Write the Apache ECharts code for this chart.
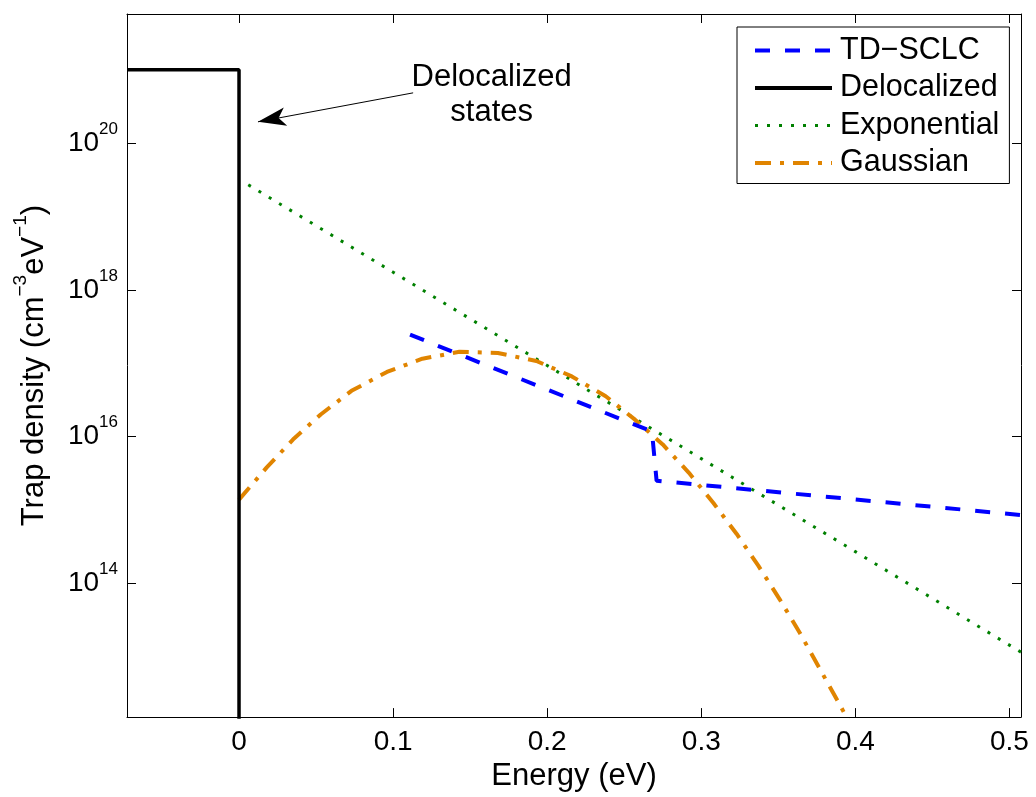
<!DOCTYPE html>
<html>
<head>
<meta charset="utf-8">
<script src="https://cdn.jsdelivr.net/npm/echarts@6/dist/echarts.min.js"></script>
<style>
  html, body { margin: 0; padding: 0; background: #fff; }
  #chart { width: 1036px; height: 797px; }
</style>
</head>
<body>
<div id="chart"></div>
<script>
// Trap density of states vs. energy (log scale)
const energyTdsclc = [0.111, 0.268, 0.271, 0.51];
const densityTdsclc = [2.45e17, 1.17e16, 2.5e15, 8.4e14];

const energyDeloc = [-0.0727, 0, 0];
const densityDeloc = [1e21, 1e21, 1e10];

const energyExp = [0.006, 0.1, 0.2, 0.3, 0.4, 0.51];
const densityExp = [2.7e19, 1.74e18, 9.3e16, 5.0e15, 2.7e14, 1.07e13];

const energyGauss = [0, 0.018, 0.035, 0.053, 0.073, 0.096, 0.119, 0.143, 0.168, 0.193, 0.216, 0.238,
  0.257, 0.275, 0.292, 0.308, 0.323, 0.337, 0.351, 0.364, 0.376, 0.388, 0.40];
const densityGauss = [1.38e15, 3.8e15, 9.1e15, 2.0e16, 4.2e16, 7.6e16, 1.15e17, 1.43e17, 1.38e17, 1.07e17,
  6.6e16, 3.55e16, 1.7e16, 7.8e15, 3.2e15, 1.23e15, 4.7e14, 1.74e14, 6.0e13, 2.1e13, 7.4e12, 2.6e12, 9.1e11];

const xTicks = [0, 0.1, 0.2, 0.3, 0.4, 0.5];
const yTicks = [1e14, 1e16, 1e18, 1e20];

// annotation: arrow from the note toward the delocalized edge
const arrowFrom = [0.113, 4.84e20];
const arrowTo = [0.0123, 1.95e20];
const noteAt = [0.164, 4.48e20];

const X_MIN = -0.0727, X_MAX = 0.5075;
const Y_MIN = 1.5e12, Y_MAX = 5.75e21;

const FONT = '"Liberation Sans", Arial, Helvetica, sans-serif';
const zip = (xs, ys) => xs.map((x, i) => [x, ys[i]]);

const chart = echarts.init(document.getElementById('chart'), null, { renderer: 'canvas' });

const axisLineStyle = { lineStyle: { color: '#000', width: 1 } };

chart.setOption({
  animation: false,
  backgroundColor: '#fff',
  textStyle: { fontFamily: FONT },
  grid: { left: 127, right: 15, top: 14, bottom: 79, containLabel: false },
  legend: {
    orient: 'vertical',
    left: 737,
    top: 27,
    padding: [8, 10, 5, 16],
    itemWidth: 77,
    itemHeight: 30,
    itemGap: 6.5,
    borderColor: '#000',
    borderWidth: 1,
    backgroundColor: '#fff',
    itemStyle: { opacity: 0, borderWidth: 0 },
    textStyle: { fontSize: 30.5, color: '#000', fontFamily: FONT, padding: [0, 0, 0, 3] },
    data: [
      { name: 'TD\u2212SCLC', lineStyle: { width: 4 } },
      { name: 'Delocalized', lineStyle: { width: 4 } },
      { name: 'Exponential', lineStyle: { width: 3 } },
      { name: 'Gaussian', lineStyle: { width: 4 } }
    ]
  },
  xAxis: [
    {
      type: 'value', min: X_MIN, max: X_MAX, position: 'bottom',
      name: 'Energy (eV)', nameLocation: 'middle', nameGap: 38,
      nameTextStyle: { fontSize: 31, color: '#000', fontFamily: FONT },
      axisLine: { show: true, onZero: false, ...axisLineStyle },
      axisTick: { show: true, inside: true, length: 9, customValues: xTicks, lineStyle: { color: '#000' } },
      axisLabel: {
        show: true, customValues: xTicks, margin: 11, fontSize: 28, color: '#000', fontFamily: FONT,
        formatter: v => (v === 0 ? '0' : v.toFixed(1))
      },
      splitLine: { show: false }
    },
    {
      type: 'value', min: X_MIN, max: X_MAX, position: 'top',
      axisLine: { show: true, onZero: false, ...axisLineStyle },
      axisTick: { show: true, inside: true, length: 9, customValues: xTicks, lineStyle: { color: '#000' } },
      axisLabel: { show: false },
      splitLine: { show: false }
    }
  ],
  yAxis: [
    {
      type: 'log', logBase: 10, min: Y_MIN, max: Y_MAX, position: 'left',
      name: '{t|Trap density (cm}{s|\u22123}{t|eV}{s|\u22121}{t|)}',
      nameLocation: 'middle', nameGap: 70, nameRotate: 90,
      nameTextStyle: {
        rich: {
          t: { fontSize: 31, fontFamily: FONT, color: '#000', lineHeight: 46, verticalAlign: 'middle' },
          s: { fontSize: 19, fontFamily: FONT, color: '#000', lineHeight: 19, verticalAlign: 'top' }
        }
      },
      axisLine: { show: true, onZero: false, ...axisLineStyle },
      axisTick: { show: true, inside: true, length: 9, customValues: yTicks, lineStyle: { color: '#000' } },
      axisLabel: {
        show: true, customValues: yTicks, margin: 9,
        formatter: v => '{b|10}{s|' + Math.round(Math.log10(v)) + '}',
        rich: {
          b: { fontSize: 28, fontFamily: FONT, color: '#000', lineHeight: 45, verticalAlign: 'middle' },
          s: { fontSize: 17, fontFamily: FONT, color: '#000', lineHeight: 17, verticalAlign: 'top' }
        }
      },
      splitLine: { show: false }
    },
    {
      type: 'log', logBase: 10, min: Y_MIN, max: Y_MAX, position: 'right',
      axisLine: { show: true, onZero: false, ...axisLineStyle },
      axisTick: { show: true, inside: true, length: 9, customValues: yTicks, lineStyle: { color: '#000' } },
      axisLabel: { show: false },
      splitLine: { show: false }
    }
  ],
  series: [
    {
      name: 'TD\u2212SCLC', type: 'line', data: zip(energyTdsclc, densityTdsclc),
      symbol: 'none', clip: true, z: 3,
      lineStyle: { color: '#0000ff', width: 4, type: [15, 15], cap: 'butt' },
      itemStyle: { color: '#0000ff' }
    },
    {
      name: 'Delocalized', type: 'line', data: zip(energyDeloc, densityDeloc),
      symbol: 'none', clip: true, z: 4,
      lineStyle: { color: '#000', width: 3.5, type: 'solid' },
      itemStyle: { color: '#000' },
      markLine: {
        silent: true, symbol: ['none', 'arrow'], symbolSize: [14, 28],
        label: { show: false },
        lineStyle: { color: '#000', width: 1, type: 'solid' },
        data: [[{ coord: arrowFrom }, { coord: arrowTo }]]
      },
      markPoint: {
        silent: true, symbol: 'circle', symbolSize: 0,
        label: {
          show: true, position: 'inside', formatter: 'Delocalized\nstates',
          fontSize: 31, lineHeight: 35, color: '#000', fontFamily: FONT, align: 'center'
        },
        data: [{ coord: noteAt }]
      }
    },
    {
      name: 'Exponential', type: 'line', data: zip(energyExp, densityExp),
      symbol: 'none', clip: true, z: 2,
      lineStyle: { color: '#008000', width: 3, type: [3, 9], cap: 'butt' },
      itemStyle: { color: '#008000' }
    },
    {
      name: 'Gaussian', type: 'line', data: zip(energyGauss, densityGauss),
      symbol: 'none', clip: true, z: 2,
      lineStyle: { color: '#e08400', width: 4, type: [16, 9, 4, 9], cap: 'butt' },
      itemStyle: { color: '#e08400' }
    }
  ]
});
</script>
</body>
</html>
